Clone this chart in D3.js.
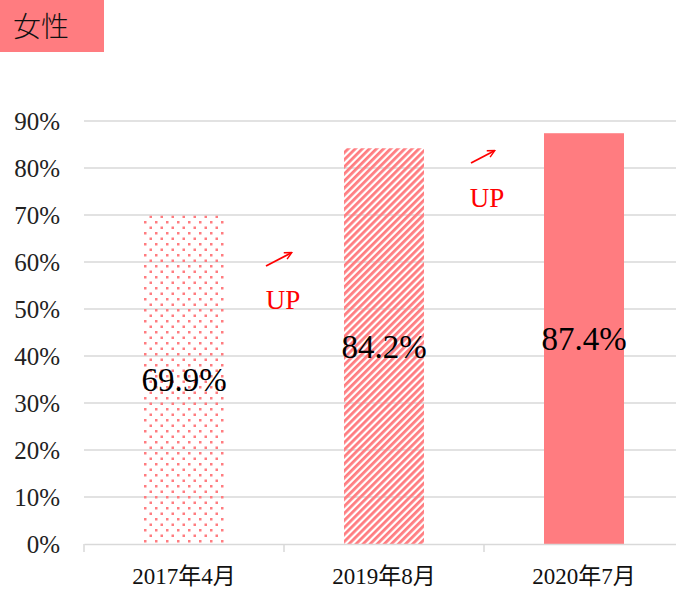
<!DOCTYPE html>
<html>
<head>
<meta charset="utf-8">
<script src="https://cdn.jsdelivr.net/npm/d3@7"></script>
<style>
  body { margin: 0; background: #fff; }
  svg { display: block; font-family: "Liberation Serif", "Noto Sans CJK JP", serif; }
</style>
</head>
<body>
<svg id="chart" width="676" height="589"></svg>
<script>
// data
const categories = ["2017年4月", "2019年8月", "2020年7月"];
const values = [69.9, 84.2, 87.4];
const fills = ["dots", "stripes", "solid"];
const yTicks = [0, 10, 20, 30, 40, 50, 60, 70, 80, 90];
const title = "女性";

const pink = "#ff7c80";
const svg = d3.select("#chart");

// patterns
const defs = svg.append("defs");
const dots = defs.append("pattern")
    .attr("id", "dots")
    .attr("patternUnits", "userSpaceOnUse")
    .attr("width", 11).attr("height", 11);
dots.append("rect").attr("x", 1).attr("y", 1).attr("width", 2.5).attr("height", 2.5).attr("fill", pink);
dots.append("rect").attr("x", 6.5).attr("y", 6.5).attr("width", 2.5).attr("height", 2.5).attr("fill", pink);

const stripes = defs.append("pattern")
    .attr("id", "stripes")
    .attr("patternUnits", "userSpaceOnUse")
    .attr("width", 5).attr("height", 5)
    .attr("patternTransform", "rotate(45)");
stripes.append("rect").attr("width", 2.8).attr("height", 5).attr("fill", pink);

const fillFor = f => f === "solid" ? pink : `url(#${f})`;

// scales
const x = d3.scaleBand()
    .domain(categories)
    .range([84, 684])
    .paddingInner(0.6)
    .paddingOuter(0.3);

const y = d3.scaleLinear()
    .domain([0, 90])
    .range([544, 121]);

// title box
svg.append("rect")
    .attr("x", 0).attr("y", 0)
    .attr("width", 104).attr("height", 52)
    .attr("fill", pink);
svg.append("text")
    .attr("x", 13).attr("y", 37)
    .style("font-family", "'Noto Sans CJK JP', sans-serif")
    .style("font-size", "28px")
    .style("font-weight", 300)
    .attr("fill", "#111")
    .text(title);

// gridlines
svg.append("g")
    .selectAll("line")
    .data(yTicks.filter(d => d > 0))
    .join("line")
    .attr("x1", 84).attr("x2", 676)
    .attr("y1", d => y(d)).attr("y2", d => y(d))
    .attr("stroke", "#d9d9d9")
    .attr("stroke-width", 1.3);

// y axis labels
svg.append("g")
    .selectAll("text")
    .data(yTicks)
    .join("text")
    .attr("x", 60)
    .attr("y", d => y(d))
    .attr("dy", "0.35em")
    .attr("text-anchor", "end")
    .style("font-size", "25px")
    .attr("fill", "#222")
    .text(d => d + "%");

// bars
svg.append("g")
    .selectAll("rect")
    .data(values)
    .join("rect")
    .attr("x", (d, i) => x(categories[i]))
    .attr("y", d => y(d))
    .attr("width", x.bandwidth())
    .attr("height", d => y(0) - y(d))
    .attr("fill", (d, i) => fillFor(fills[i]));

// x axis
const xAxis = svg.append("g")
    .attr("transform", `translate(0,${y(0)})`)
    .call(d3.axisBottom(x).tickSize(0).tickPadding(24));
xAxis.select(".domain").attr("stroke", "#d9d9d9").attr("stroke-width", 1.5);
xAxis.selectAll("text")
    .style("font-family", "'Liberation Serif', 'Noto Sans CJK JP', serif")
    .style("font-size", "23px")
    .attr("fill", "#111");
// category boundary ticks
const bounds = [84].concat(categories.map(c => x(c) + x.bandwidth() + x.step() * 0.3));
xAxis.selectAll(".bound")
    .data(bounds)
    .join("line")
    .attr("class", "bound")
    .attr("x1", d => d).attr("x2", d => d)
    .attr("y1", 0).attr("y2", 8)
    .attr("stroke", "#d9d9d9")
    .attr("stroke-width", 1.5);

// value labels
svg.append("g")
    .selectAll("text")
    .data(values)
    .join("text")
    .attr("x", (d, i) => x(categories[i]) + x.bandwidth() / 2)
    .attr("y", d => (y(d) + y(0)) / 2)
    .attr("dy", "0.35em")
    .attr("text-anchor", "middle")
    .style("font-size", "33px")
    .attr("fill", "#000")
    .text(d => d.toFixed(1) + "%");

// UP arrows
defs.append("marker")
    .attr("id", "arrow")
    .attr("viewBox", "0 0 10 10")
    .attr("refX", 8).attr("refY", 5)
    .attr("markerWidth", 5).attr("markerHeight", 5)
    .attr("orient", "auto")
    .append("path")
    .attr("d", "M1,1 L9,5 L1,9")
    .attr("fill", "none")
    .attr("stroke", "#ff0000")
    .attr("stroke-width", 1.6);

const ups = [
  { x1: 266, y1: 266, x2: 291, y2: 253, tx: 283, ty: 300 },
  { x1: 471, y1: 163, x2: 494, y2: 151, tx: 487, ty: 198 }
];
const upG = svg.append("g");
upG.selectAll("line")
    .data(ups)
    .join("line")
    .attr("x1", d => d.x1).attr("y1", d => d.y1)
    .attr("x2", d => d.x2).attr("y2", d => d.y2)
    .attr("stroke", "#ff0000")
    .attr("stroke-width", 1.8)
    .attr("marker-end", "url(#arrow)");
upG.selectAll("text")
    .data(ups)
    .join("text")
    .attr("x", d => d.tx).attr("y", d => d.ty)
    .attr("dy", "0.35em")
    .attr("text-anchor", "middle")
    .style("font-size", "27px")
    .attr("fill", "#ff0000")
    .text("UP");
</script>
</body>
</html>
